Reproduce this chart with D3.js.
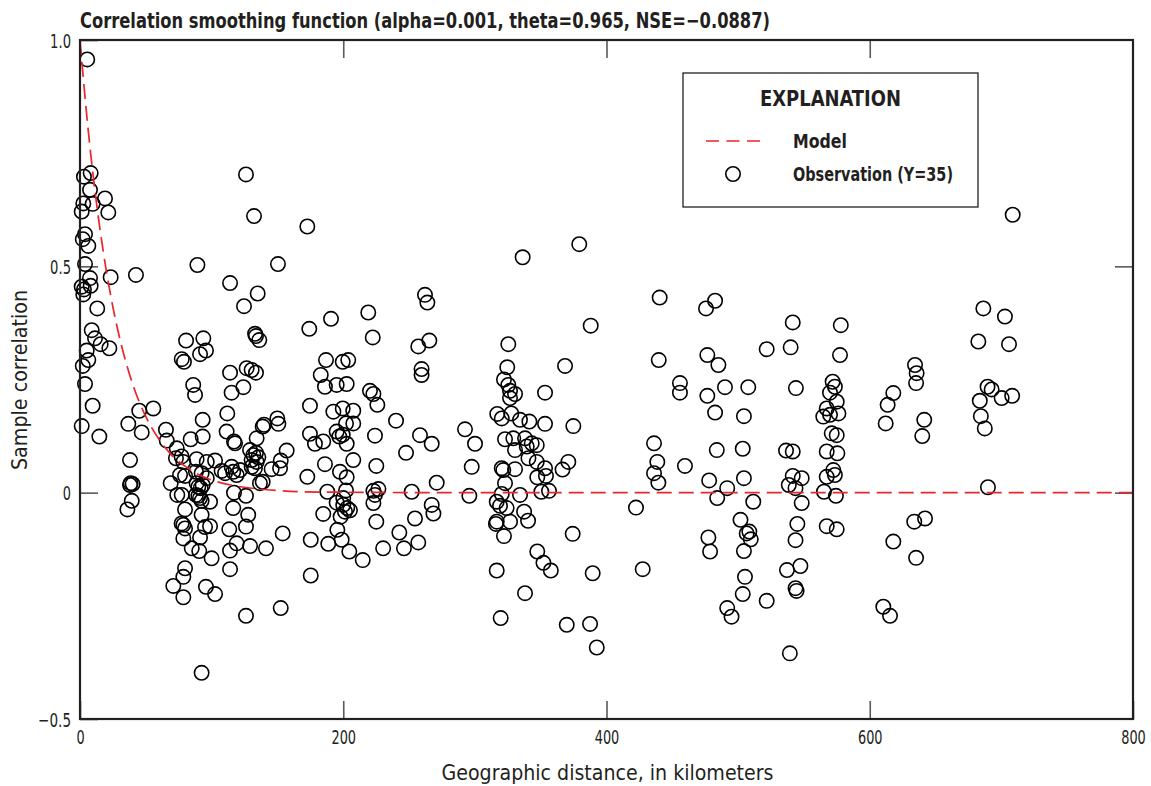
<!DOCTYPE html>
<html>
<head>
<meta charset="utf-8">
<script src="https://cdn.jsdelivr.net/npm/d3@7"></script>
<style>
  html, body { margin: 0; padding: 0; background: #fff; }
  svg { display: block; }
  text { font-family: "Liberation Sans Narrow", "Arial Narrow", "DejaVu Sans Condensed", "Roboto Condensed", sans-serif; fill: #231f20; }
</style>
</head>
<body>
<svg id="chart" width="1151" height="786"></svg>
<script>
// ---------- DATA ----------
const titleText = "Correlation smoothing function (alpha=0.001, theta=0.965, NSE=\u22120.0887)";
const xTicks = [0, 200, 400, 600, 800];
const xTickLabels = ["0", "200", "400", "600", "800"];
const yTicks = [-0.5, 0, 0.5, 1.0];
const yTickLabels = ["\u22120.5", "0", "0.5", "1.0"];
const xTitle = "Geographic distance, in kilometers";
const yTitle = "Sample correlation";
const legendTitle = "EXPLANATION";
const legendModel = "Model";
const legendObs = "Observation (Y=35)";

// Model curve (distance km, correlation)
const modelDist = [0, 5, 10, 15, 20, 25, 30, 40, 50, 60, 70, 80, 90, 100, 120, 140, 170, 200, 300, 800];
const modelCorr = [1.0, 0.837, 0.70, 0.586, 0.49, 0.41, 0.343, 0.24, 0.168, 0.118, 0.082, 0.058, 0.04, 0.028, 0.014, 0.007, 0.002, 0.001, 0, 0];

// Observations: geographic distance (km)
const obsDist = [
 5.5,8.1,3.0,7.6,19.0,2.5,9.6,21.5,1.3,3.8,2.1,6.3,3.8,7.6,23.3,1.3,3.0,8.1,2.5,13.1,8.9,11.4,15.7,22.3,5.1,6.3,2.1,3.8,9.6,1.3,14.7,
 42.5,45.0,55.7,36.7,46.9,38.0,38.5,40.0,38.0,39.3,36.0,
 65.3,65.9,73.5,72.9,77.2,78.5,79.8,68.9,73.9,79.8,77.2,78.5,79.8,78.5,84.9,90.6,100.0,79.8,78.5,70.9,78.5,95.7,102.6,92.4,
 86.0,87.4,93.2,84.1,93.2,88.6,96.3,102.6,88.1,92.4,96.3,88.6,89.9,91.7,93.2,88.1,89.9,91.2,92.4,98.8,92.4,95.0,98.8,91.2,
 80.6,93.7,95.7,91.2,77.3,79.0,89.2,76.0,77.3,
 114.0,126.6,130.4,133.7,114.0,135.0,124.6,126.1,132.2,150.4,133.0,133.7,136.2,
 115.2,124.1,111.9,111.4,117.0,117.8,134.2,139.8,138.8,149.9,150.7,157.0,145.6,152.0,152.5,
 129.2,131.7,133.7,135.5,130.4,134.2,130.4,132.9,
 110.2,115.2,116.4,119.0,121.6,136.7,138.8,117.0,126.1,116.4,127.8,113.4,126.1,107.6,
 114.0,114.0,119.0,129.2,141.3,154.0,126.1,152.5,
 172.7,190.7,174.2,186.9,199.6,203.8,182.9,
 174.7,174.7,178.5,184.8,186.1,195.0,202.6,192.5,199.6,207.6,202.1,207.6,195.0,197.0,199.6,202.6,186.1,197.5,202.6,172.7,187.9,195.0,200.0,203.0,201.3,202.1,200.0,205.1,184.8,198.0,195.5,207.6,
 175.3,188.6,175.3,198.8,204.6,214.8,
 262.1,263.9,219.0,222.4,257.0,265.4,259.5,259.5,220.3,222.9,225.9,240.1,224.1,258.3,267.2,247.7,225.1,271.0,222.9,226.7,224.1,222.9,252.0,267.2,268.5,225.1,254.5,242.6,230.3,246.1,257.0,
 336.3,379.3,388.0,325.4,324.6,368.5,322.1,
 325.4,326.7,330.5,326.7,353.3,317.0,320.4,327.7,334.3,341.4,353.3,374.8,292.5,300.1,322.9,329.2,330.5,338.1,339.4,343.2,347.0,340.7,347.0,297.6,320.4,321.6,330.5,322.9,353.3,354.0,347.4,371.0,366.6,350.5,356.3,295.8,320.4,316.6,319.1,324.1,334.3,337.4,340.4,326.7,316.6,316.0,322.1,374.3,347.4,352.1,357.7,316.6,338.1,319.6,369.8,387.5,392.6,389.5,
 440.4,475.6,482.5,439.7,476.6,485.0,521.7,455.8,455.8,476.6,490.0,507.7,482.5,504.4,436.1,438.6,436.1,439.4,459.6,422.4,427.5,483.8,503.5,478.0,491.7,484.1,504.4,511.5,501.8,506.5,508.5,509.6,504.4,477.4,478.7,505.2,503.5,521.7,491.7,495.0,
 541.5,578.0,539.9,577.4,543.9,571.8,573.5,569.8,574.9,567.3,564.7,569.8,576.2,571.1,574.9,567.3,575.4,572.3,567.3,573.5,565.2,574.3,567.3,574.9,536.4,541.5,541.5,548.3,538.5,543.6,548.3,545.0,543.6,537.1,547.3,543.6,544.4,539.3,
 708.6,686.3,702.7,682.5,705.8,634.4,635.6,635.2,617.9,613.6,612.1,641.4,639.9,689.5,692.6,683.6,700.2,708.2,684.4,687.4,689.8,633.8,642.0,617.9,635.2,610.3,615.4
];
// Observations: sample correlation
const obsCorr = [
 0.957,0.706,0.698,0.669,0.650,0.639,0.638,0.619,0.621,0.571,0.560,0.545,0.505,0.474,0.476,0.455,0.449,0.457,0.438,0.407,0.359,0.341,0.328,0.319,0.314,0.293,0.280,0.240,0.192,0.147,0.124,
 0.481,0.181,0.186,0.152,0.133,0.072,0.021,0.019,0.017,-0.018,-0.037,
 0.139,0.115,0.098,0.076,0.080,0.068,0.037,0.021,-0.005,-0.037,-0.068,-0.071,-0.079,-0.101,-0.123,-0.129,-0.145,-0.167,-0.186,-0.206,-0.231,-0.208,-0.224,-0.398,
 0.238,0.216,0.161,0.118,0.124,0.074,0.068,0.071,0.046,0.043,0.032,0.021,0.013,0.010,0.017,-0.005,-0.007,-0.012,-0.018,-0.020,-0.049,-0.076,-0.074,-0.099,
 0.336,0.341,0.314,0.306,0.295,0.289,0.503,0.039,-0.005,
 0.265,0.275,0.271,0.265,0.463,0.440,0.412,0.703,0.611,0.505,0.351,0.346,0.337,
 0.221,0.233,0.175,0.135,0.113,0.109,0.120,0.150,0.146,0.164,0.152,0.093,0.052,0.054,0.071,
 0.094,0.083,0.088,0.078,0.072,0.068,0.057,0.054,
 0.043,0.057,0.046,0.039,0.050,0.021,0.024,0.000,-0.007,-0.034,-0.049,-0.081,-0.075,0.048,
 -0.169,-0.128,-0.112,-0.118,-0.123,-0.090,-0.272,-0.255,
 0.588,0.384,0.362,0.293,0.289,0.293,0.260,
 0.192,0.130,0.108,0.113,0.234,0.238,0.240,0.179,0.186,0.181,0.153,0.153,0.135,0.124,0.128,0.108,0.063,0.046,0.034,0.035,0.002,-0.022,-0.027,-0.034,-0.042,0.005,-0.012,-0.039,-0.047,-0.053,-0.082,0.072,
 -0.104,-0.113,-0.183,-0.104,-0.130,-0.149,
 0.437,0.420,0.398,0.343,0.323,0.336,0.273,0.260,0.225,0.218,0.194,0.159,0.126,0.127,0.108,0.088,0.059,0.022,0.004,0.008,-0.005,-0.023,0.002,-0.027,-0.046,-0.064,-0.057,-0.088,-0.123,-0.123,-0.110,
 0.520,0.549,0.369,0.328,0.277,0.280,0.250,
 0.238,0.225,0.218,0.209,0.221,0.174,0.164,0.175,0.161,0.157,0.152,0.147,0.140,0.108,0.118,0.120,0.094,0.120,0.102,0.109,0.105,0.076,0.068,0.057,0.054,0.050,0.052,0.021,0.054,0.037,0.034,0.068,0.051,0.002,0.004,-0.007,-0.003,-0.020,-0.029,-0.034,-0.005,-0.042,-0.062,-0.064,-0.064,-0.069,-0.096,-0.091,-0.130,-0.155,-0.172,-0.172,-0.222,-0.277,-0.292,-0.290,-0.342,-0.178,
 0.431,0.407,0.424,0.293,0.304,0.282,0.317,0.242,0.221,0.214,0.233,0.233,0.177,0.169,0.109,0.068,0.043,0.022,0.059,-0.033,-0.169,0.094,0.097,0.027,0.010,-0.012,0.032,-0.020,-0.060,-0.090,-0.086,-0.103,-0.129,-0.099,-0.130,-0.186,-0.224,-0.239,-0.255,-0.274,
 0.376,0.370,0.321,0.304,0.231,0.245,0.234,0.221,0.201,0.186,0.168,0.172,0.175,0.131,0.127,0.091,0.087,0.050,0.035,0.039,0.002,-0.007,-0.074,-0.081,0.093,0.091,0.037,0.032,0.017,0.010,-0.023,-0.069,-0.105,-0.171,-0.162,-0.211,-0.217,-0.355,
 0.614,0.407,0.389,0.334,0.328,0.282,0.264,0.242,0.220,0.194,0.153,0.161,0.125,0.234,0.228,0.203,0.209,0.214,0.169,0.142,0.012,-0.064,-0.057,-0.108,-0.144,-0.252,-0.272
];

// ---------- CHART ----------
const svg = d3.select("#chart");
const mLeft = 80, mRight = 1133, mTop = 40, mBottom = 719;
const x = d3.scaleLinear().domain([0, 800]).range([mLeft, mRight]);
const y = d3.scaleLinear().domain([-0.5, 1.0]).range([mBottom, mTop]);
const tickLen = 18;
const tickColor = "#5a5a5a";
const tickFont = 20;
// condensed label widths (px per glyph) to mimic the reference's narrow face
const glyphW = ch => (ch === "." ? 4.5 : ch === "\u2212" ? 12 : 8.2);
const labelW = s => Array.from(s).reduce((a, c) => a + glyphW(c), 0);

// Axes (ticks pointing inward)
const gx = svg.append("g").attr("transform", `translate(0,${mBottom})`)
  .call(d3.axisBottom(x).tickValues(xTicks).tickSizeInner(-tickLen).tickSizeOuter(0).tickPadding(11)
        .tickFormat((d, i) => xTickLabels[i]));
const gy = svg.append("g").attr("transform", `translate(${mLeft},0)`)
  .call(d3.axisLeft(y).tickValues(yTicks).tickSizeInner(-tickLen).tickSizeOuter(0).tickPadding(9)
        .tickFormat((d, i) => yTickLabels[i]));
const gt = svg.append("g").attr("transform", `translate(0,${mTop})`)
  .call(d3.axisTop(x).tickValues(xTicks.slice(1, -1)).tickSizeInner(-tickLen).tickSizeOuter(0).tickFormat(""));
const gr = svg.append("g").attr("transform", `translate(${mRight},0)`)
  .call(d3.axisRight(y).tickValues(yTicks.slice(1, -1)).tickSizeInner(-tickLen).tickSizeOuter(0).tickFormat(""));
[gx, gy, gt, gr].forEach(g => {
  g.attr("font-size", tickFont).attr("font-family", null);
  g.select(".domain").remove();
  g.selectAll(".tick line").attr("stroke", tickColor).attr("stroke-width", 1.6);
});
[gx, gy].forEach(g => g.selectAll(".tick text")
  .attr("font-size", tickFont).attr("fill", "#231f20")
  .attr("textLength", function () { return labelW(this.textContent); })
  .attr("lengthAdjust", "spacingAndGlyphs"));
gy.selectAll(".tick text").attr("dy", "0.36em");

// Observations
const pts = obsDist.map((d, i) => ({ d, c: obsCorr[i] }));
svg.append("g").selectAll("circle").data(pts).join("circle")
  .attr("cx", p => x(p.d)).attr("cy", p => y(p.c)).attr("r", 7.2)
  .attr("fill", "none").attr("stroke", "#000").attr("stroke-width", 1.6);

// Model curve
const model = modelDist.map((d, i) => ({ d, c: modelCorr[i] }));
svg.append("path").datum(model)
  .attr("d", d3.line().x(p => x(p.d)).y(p => y(p.c)).curve(d3.curveMonotoneX))
  .attr("fill", "none").attr("stroke", "#e8262b").attr("stroke-width", 1.7)
  .attr("stroke-dasharray", "15,7");

// Frame
svg.append("rect").attr("x", mLeft).attr("y", mTop).attr("width", mRight - mLeft).attr("height", mBottom - mTop)
  .attr("fill", "none").attr("stroke", "#231f20").attr("stroke-width", 2.2);

// Title
svg.append("text").attr("x", mLeft).attr("y", 28).attr("font-size", 21).attr("font-weight", "bold")
  .attr("textLength", 690).attr("lengthAdjust", "spacingAndGlyphs").text(titleText);

// Axis titles
svg.append("text").attr("x", (mLeft + mRight) / 2 + 1).attr("y", 780).attr("text-anchor", "middle")
  .attr("font-size", 22).attr("textLength", 332).attr("lengthAdjust", "spacingAndGlyphs").text(xTitle);
svg.append("text").attr("transform", "translate(27,380) rotate(-90)").attr("text-anchor", "middle")
  .attr("font-size", 22).attr("textLength", 180).attr("lengthAdjust", "spacingAndGlyphs").text(yTitle);

// Legend
const lg = svg.append("g");
lg.append("rect").attr("x", 683).attr("y", 73).attr("width", 295).attr("height", 134)
  .attr("fill", "#fff").attr("stroke", "#231f20").attr("stroke-width", 1.3);
lg.append("text").attr("x", 830.5).attr("y", 106).attr("text-anchor", "middle").attr("font-size", 22)
  .attr("font-weight", "bold").attr("textLength", 141).attr("lengthAdjust", "spacingAndGlyphs").text(legendTitle);
lg.append("line").attr("x1", 706).attr("x2", 760).attr("y1", 141).attr("y2", 141)
  .attr("stroke", "#e8262b").attr("stroke-width", 1.7).attr("stroke-dasharray", "13,7.5");
lg.append("text").attr("x", 793).attr("y", 148).attr("font-size", 19).attr("font-weight", "bold")
  .attr("textLength", 54).attr("lengthAdjust", "spacingAndGlyphs").text(legendModel);
lg.append("circle").attr("cx", 733).attr("cy", 174).attr("r", 7.2)
  .attr("fill", "none").attr("stroke", "#000").attr("stroke-width", 1.6);
lg.append("text").attr("x", 793).attr("y", 181).attr("font-size", 19).attr("font-weight", "bold")
  .attr("textLength", 160).attr("lengthAdjust", "spacingAndGlyphs").text(legendObs);
</script>
</body>
</html>
